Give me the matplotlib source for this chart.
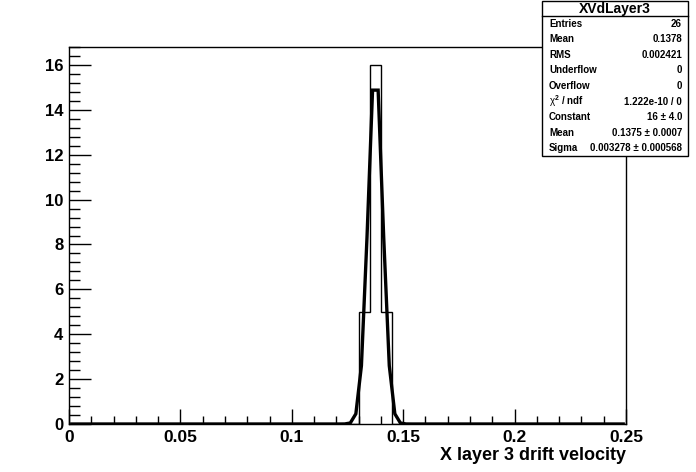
import numpy as np
import matplotlib
matplotlib.use("Agg")
import matplotlib.pyplot as plt
from matplotlib.ticker import MultipleLocator

# ---- data ----
x_min, x_max, n_bins = 0.0, 0.25, 50
counts = [0]*26 + [5, 16, 5] + [0]*21
fit_constant = 16.0
fit_mean = 0.1375
fit_sigma = 0.003278
stats_labels = ["Entries", "Mean", "RMS", "Underflow", "Overflow",
                r"$\chi^2$ / ndf", "Constant", "Mean", "Sigma"]
stats_values = ["26", "0.1378", "0.002421", "0", "0", "1.222e-10 / 0",
                "16 ± 4.0", "0.1375 ± 0.0007", "0.003278 ± 0.000568"]
x_ticks = [0, 0.05, 0.1, 0.15, 0.2, 0.25]
x_tick_labels = ["0", "0.05", "0.1", "0.15", "0.2", "0.25"]
y_ticks = [0, 2, 4, 6, 8, 10, 12, 14, 16]
title = "XVdLayer3"
xlabel = "X layer 3 drift velocity"

plt.rcParams['font.family'] = ['Liberation Sans', 'DejaVu Sans']
plt.rcParams['mathtext.fontset'] = 'custom'
plt.rcParams['mathtext.rm'] = 'Liberation Sans:bold'
plt.rcParams['mathtext.it'] = 'Liberation Sans'
plt.rcParams['mathtext.bf'] = 'Liberation Sans:bold'

fig = plt.figure(figsize=(6.96, 4.72), dpi=100)
ax = fig.add_axes([69/696, 48/472, (626-69)/696, (424-47)/472])

edges = np.linspace(x_min, x_max, n_bins + 1)
ax.stairs(counts, edges, color='black', linewidth=1.0)

npx = 100
step = (x_max - x_min) / npx
xf = np.linspace(x_min + step/2, x_max - step/2, npx)
yf = fit_constant * np.exp(-0.5 * ((xf - fit_mean) / fit_sigma) ** 2)
ax.plot(xf, yf, color='black', linewidth=2.4, solid_joinstyle='miter')

ax.set_xlim(x_min, x_max)
ax.set_ylim(0, 16.8)
ax.set_xticks(x_ticks)
ax.set_xticklabels(x_tick_labels)
ax.set_yticks(y_ticks)
ax.xaxis.set_minor_locator(MultipleLocator(0.01))
ax.yaxis.set_minor_locator(MultipleLocator(0.4))
ax.tick_params(which='major', direction='in', length=11, width=1, top=False, right=False,
               labelsize=12.5, pad=4)
ax.tick_params(axis='y', which='major', length=16, labelsize=12)
ax.tick_params(which='minor', direction='in', length=5.5, width=1, top=False, right=False)
ax.tick_params(axis='y', which='minor', length=8)
for lab in ax.get_xticklabels() + ax.get_yticklabels():
    lab.set_fontweight('bold')
for sp in ax.spines.values():
    sp.set_linewidth(1)

fig.text(626/696, 1 - 455/472, xlabel, ha='right', va='center',
         fontsize=13, fontweight='bold')

# stats box
bx0, bx1 = 542/696, 688/696
by_top, by_bot = 1 - 1/472, 1 - 156/472
box = plt.Rectangle((bx0, by_bot), bx1 - bx0, by_top - by_bot, transform=fig.transFigure,
                    facecolor='white', edgecolor='black', linewidth=1, zorder=5)
fig.add_artist(box)
sep_y = 1 - 16/472
fig.add_artist(plt.Line2D([bx0, bx1], [sep_y, sep_y], transform=fig.transFigure,
                          color='black', linewidth=1, zorder=6))
fig.text((bx0 + bx1)/2, 1 - 8.5/472, title, ha='center', va='center',
         fontsize=10, fontweight='bold', zorder=7)
row_h = (156 - 16) / len(stats_labels)
for i, (lab, val) in enumerate(zip(stats_labels, stats_values)):
    yy = 1 - (16 + row_h*(i + 0.5))/472
    fig.text(549/696, yy, lab, ha='left', va='center', fontsize=7,
             fontweight='bold', zorder=7)
    fig.text(682/696, yy, val, ha='right', va='center', fontsize=7,
             fontweight='bold', zorder=7)

fig.savefig("out.png", dpi=100)
